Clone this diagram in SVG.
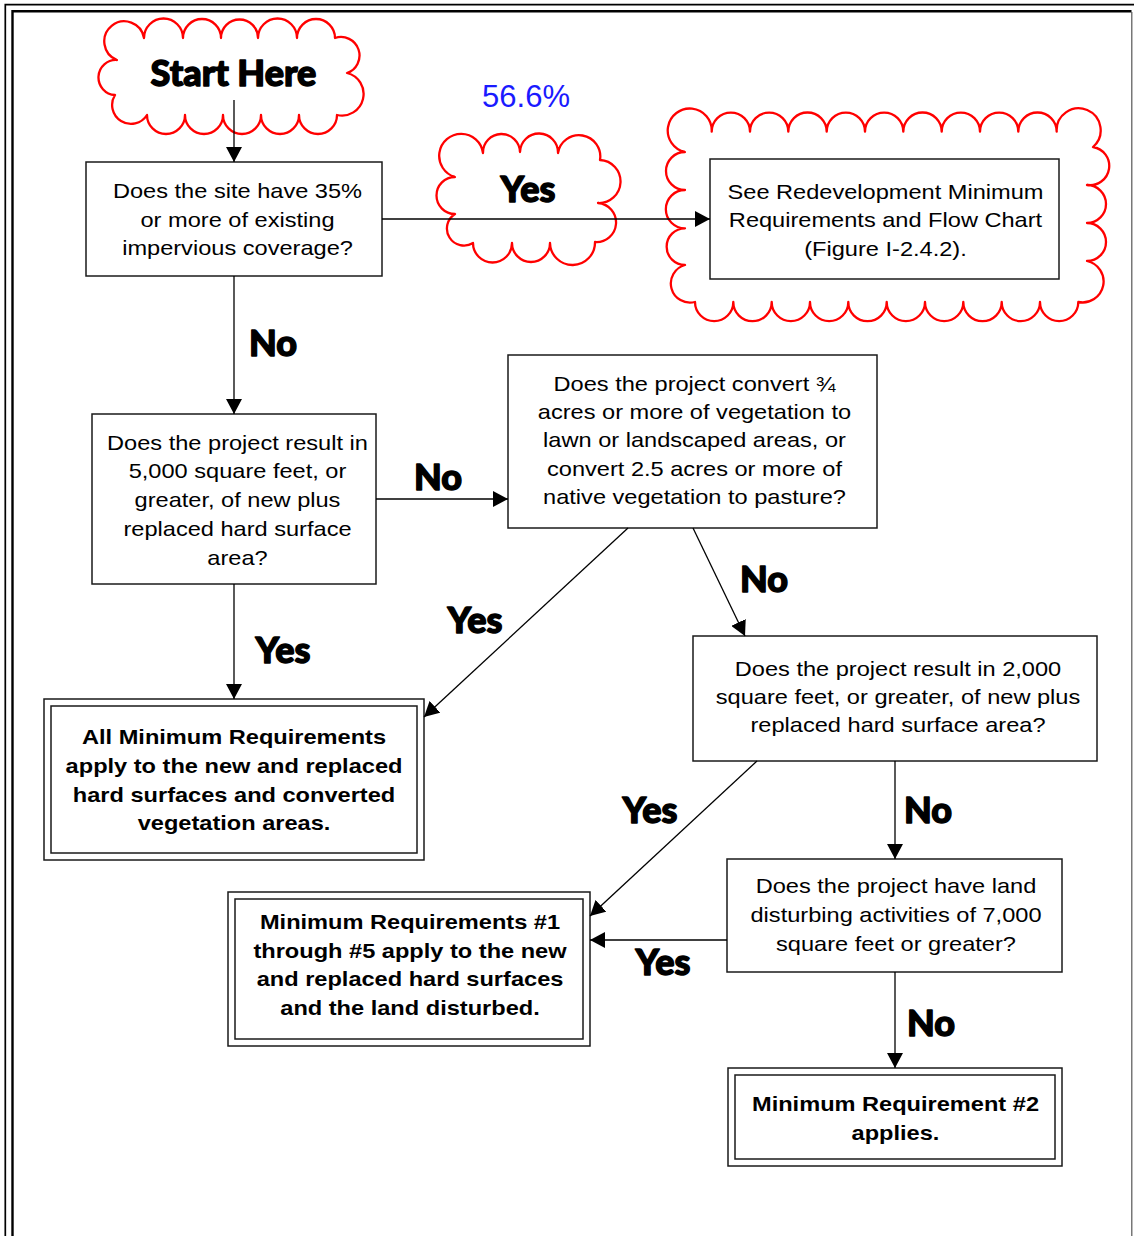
<svg xmlns="http://www.w3.org/2000/svg" width="1134" height="1236" viewBox="0 0 1134 1236">
<defs>
<marker id="ah" markerUnits="userSpaceOnUse" markerWidth="15" markerHeight="16" viewBox="0 0 15 16" refX="15" refY="8" orient="auto"><path d="M0,0 L15,8 L0,16 Z" fill="#000"/></marker>
</defs>
<style>
.box{fill:#fff;stroke:#1a1a1a;stroke-width:1.5}
.dbl{fill:none;stroke:#1a1a1a;stroke-width:1.5}
.cloud{fill:none;stroke:#ff0000;stroke-width:2.3;stroke-linejoin:round}
.t{font-family:"Liberation Sans",Arial,sans-serif;font-size:20px;fill:#000;text-anchor:middle}
.b{font-weight:bold}
.lbl{font-family:Lato,"DejaVu Sans",sans-serif;font-weight:900;font-size:36px;text-anchor:middle;fill:#000;stroke:#000;stroke-width:1.4;stroke-linejoin:round}
.conn{stroke:#000;stroke-width:1.3;fill:none;marker-end:url(#ah)}
</style>
<rect width="1134" height="1236" fill="#fff"/>
<g id="frame" fill="none">
<path d="M5.3,1236 V4.6 H1134" stroke="#000" stroke-width="1.7"/>
<path d="M12.5,1236 V11.2 H1131.5" stroke="#000" stroke-width="2.4"/>
<path d="M1131.8,12 V1236" stroke="#555" stroke-width="1.2"/>
</g>

<g id="start">
<path class="cloud" d="M117,60 A20,20 0 1 1 144,38 A1,1 0 0 1 183,38 A1,1 0 0 1 221,38 A1,1 0 0 1 258,38 A1,1 0 0 1 297,38 A1,1 0 0 1 335,38 A1,1 0 0 1 347,73 A1,1 0 0 1 337,115 A1,1 0 0 1 299,115 A1,1 0 0 1 261,115 A1,1 0 0 1 223,115 A1,1 0 0 1 185,115 A1,1 0 0 1 147,115 A1,1 0 0 1 115,95 A1,1 0 0 1 117,60 Z"/>
<text class="lbl" x="233.5" y="86">Start Here</text>
</g>

<g id="q1">
<rect class="box" x="86" y="162" width="296" height="114"/>
<text class="t" transform="matrix(1.18 0 0 1 237.5 0)"><tspan x="0" y="198.5">Does the site have 35%</tspan><tspan x="0" y="227">or more of existing</tspan><tspan x="0" y="255.5">impervious coverage?</tspan></text>
</g>

<g id="pct">
<text x="526" y="107" font-family="Liberation Sans, Arial, sans-serif" font-size="31" fill="#1a1aff" text-anchor="middle">56.6%</text>
</g>

<g id="yesCloud">
<path class="cloud" d="M455,214 A1,1 0 0 1 455,177 A22,22 0 1 1 483,153 A1,1 0 0 1 520,152 A1,1 0 0 1 558,153 A1,1 0 0 1 600,160 A1,1 0 0 1 598,203 A1,1 0 0 1 595,242 A1,1 0 0 1 550,243 A1,1 0 0 1 512,243 A1,1 0 0 1 473,243 A1,1 0 0 1 455,214 Z"/>
<text class="lbl" x="528" y="202">Yes</text>
</g>

<g id="redev">
<path class="cloud" d="M685,152 A22,22 0 1 1 711.7,131.7 A1,1 0 0 1 750,131.7 A1,1 0 0 1 788.3,131.7 A1,1 0 0 1 826.7,131.7 A1,1 0 0 1 865,131.7 A1,1 0 0 1 903.3,131.7 A1,1 0 0 1 941.7,131.7 A1,1 0 0 1 980,131.7 A1,1 0 0 1 1018.3,131.7 A1,1 0 0 1 1056.7,131.7 A22,22 0 1 1 1093,147 A1,1 0 0 1 1087,185 A1,1 0 0 1 1087,223 A1,1 0 0 1 1087,261 A1,1 0 0 1 1078.3,302 A1,1 0 0 1 1040,302 A1,1 0 0 1 1001.7,302 A1,1 0 0 1 963.3,302 A1,1 0 0 1 925,302 A1,1 0 0 1 886.7,302 A1,1 0 0 1 848.3,302 A1,1 0 0 1 810,302 A1,1 0 0 1 771.7,302 A1,1 0 0 1 733.3,302 A1,1 0 0 1 695,302 A1,1 0 0 1 685,265 A1,1 0 0 1 685,228.3 A1,1 0 0 1 685,190 A1,1 0 0 1 685,152 Z"/>
<rect class="box" x="710" y="159" width="349" height="120"/>
<text class="t" transform="matrix(1.18 0 0 1 885.5 0)"><tspan x="0" y="199">See Redevelopment Minimum</tspan><tspan x="0" y="227.5">Requirements and Flow Chart</tspan><tspan x="0" y="256">(Figure I-2.4.2).</tspan></text>
</g>

<g id="q2">
<rect class="box" x="92" y="414" width="284" height="170"/>
<text class="t" transform="matrix(1.18 0 0 1 237.5 0)"><tspan x="0" y="450">Does the project result in</tspan><tspan x="0" y="478.5">5,000 square feet, or</tspan><tspan x="0" y="507.2">greater, of new plus</tspan><tspan x="0" y="536">replaced hard surface</tspan><tspan x="0" y="564.7">area?</tspan></text>
</g>

<g id="q3">
<rect class="box" x="508" y="355" width="369" height="173"/>
<text class="t" transform="matrix(1.18 0 0 1 694.5 0)"><tspan x="0" y="390.7">Does the project convert ¾</tspan><tspan x="0" y="419">acres or more of vegetation to</tspan><tspan x="0" y="447.3">lawn or landscaped areas, or</tspan><tspan x="0" y="475.7">convert 2.5 acres or more of</tspan><tspan x="0" y="504">native vegetation to pasture?</tspan></text>
</g>

<g id="q4">
<rect class="box" x="693" y="636" width="404" height="125"/>
<text class="t" transform="matrix(1.18 0 0 1 898 0)"><tspan x="0" y="675.7">Does the project result in 2,000</tspan><tspan x="0" y="704">square feet, or greater, of new plus</tspan><tspan x="0" y="732.3">replaced hard surface area?</tspan></text>
</g>

<g id="q5">
<rect class="box" x="727" y="859" width="335" height="113"/>
<text class="t" transform="matrix(1.18 0 0 1 896 0)"><tspan x="0" y="893.3">Does the project have land</tspan><tspan x="0" y="922.3">disturbing activities of 7,000</tspan><tspan x="0" y="950.7">square feet or greater?</tspan></text>
</g>

<g id="allMR">
<rect class="box" x="44" y="699" width="380" height="161"/>
<rect class="dbl" x="51" y="706" width="366" height="147"/>
<text class="t b" transform="matrix(1.18 0 0 1 234 0)"><tspan x="0" y="744.3">All Minimum Requirements</tspan><tspan x="0" y="773.3">apply to the new and replaced</tspan><tspan x="0" y="801.7">hard surfaces and converted</tspan><tspan x="0" y="830">vegetation areas.</tspan></text>
</g>

<g id="mr1to5">
<rect class="box" x="228" y="892" width="362" height="154"/>
<rect class="dbl" x="235" y="899" width="348" height="140"/>
<text class="t b" transform="matrix(1.18 0 0 1 410 0)"><tspan x="0" y="929">Minimum Requirements #1</tspan><tspan x="0" y="957.7">through #5 apply to the new</tspan><tspan x="0" y="986.3">and replaced hard surfaces</tspan><tspan x="0" y="1015">and the land disturbed.</tspan></text>
</g>

<g id="mr2">
<rect class="box" x="728" y="1068" width="334" height="98"/>
<rect class="dbl" x="735" y="1075" width="320" height="84"/>
<text class="t b" transform="matrix(1.18 0 0 1 895.5 0)"><tspan x="0" y="1111">Minimum Requirement #2</tspan><tspan x="0" y="1140">applies.</tspan></text>
</g>

<g id="connectors">
<path class="conn" d="M234,100 V162"/>
<path class="conn" d="M382,219 H710"/>
<path class="conn" d="M234,276 V414"/>
<path class="conn" d="M376,499 H508"/>
<path class="conn" d="M234,584 V699"/>
<path class="conn" d="M628,528 L424,717"/>
<path class="conn" d="M693,528 L745,636"/>
<path class="conn" d="M895,761 V859"/>
<path class="conn" d="M757,761 L590,916"/>
<path class="conn" d="M727,940 H590"/>
<path class="conn" d="M895,972 V1068"/>
<text class="lbl" x="273" y="356">No</text>
<text class="lbl" x="438" y="490">No</text>
<text class="lbl" x="475" y="633">Yes</text>
<text class="lbl" x="283" y="663">Yes</text>
<text class="lbl" x="764" y="592">No</text>
<text class="lbl" x="650" y="823">Yes</text>
<text class="lbl" x="928" y="823">No</text>
<text class="lbl" x="663" y="975">Yes</text>
<text class="lbl" x="931" y="1036">No</text>
</g>
</svg>
